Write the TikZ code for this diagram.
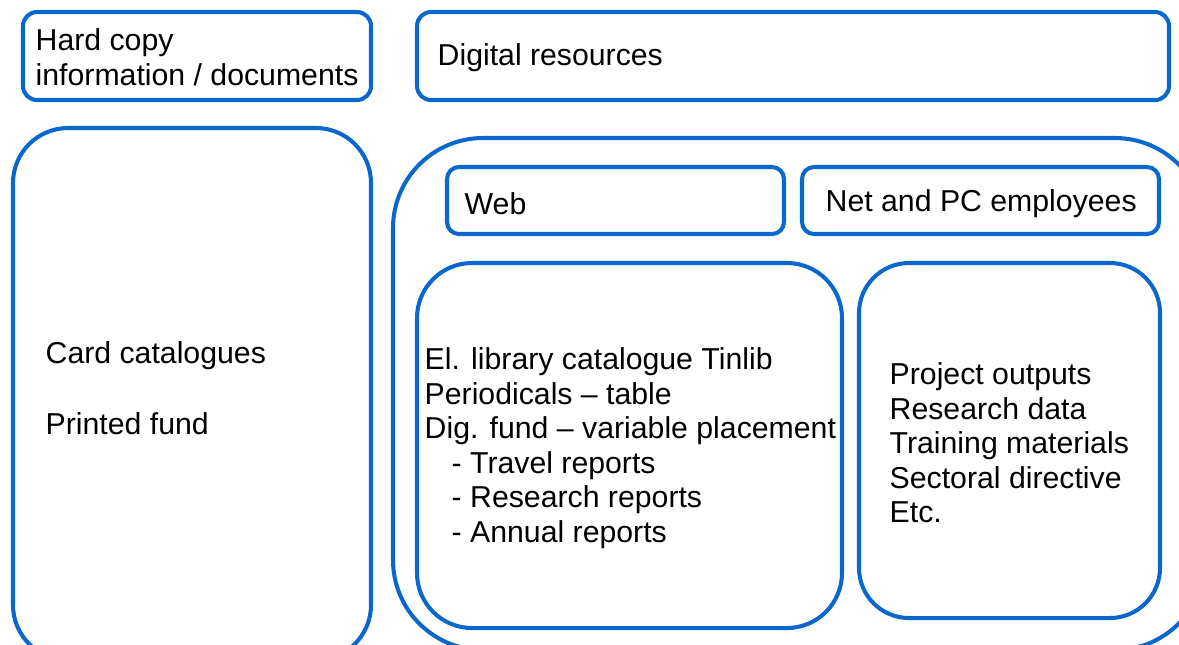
\documentclass[tikz,border=0pt]{standalone}
\usepackage{fontspec}
\setmainfont{Liberation Sans}
\definecolor{boxblue}{RGB}{10,104,204}
\begin{document}
\begin{tikzpicture}[x=0.01cm,y=-0.01cm,
  frame/.style={draw=boxblue,line width=1.15pt,rounded corners=#1},
  frame/.default=0.14cm,
  lbl/.style={anchor=west,align=left,inner sep=0pt,font=\fontsize{8.6pt}{9.8pt}\selectfont}]
\useasboundingbox (0,0) rectangle (1179,644);
\clip (0,0) rectangle (1179,644);
\fill[white] (0,0) rectangle (1179,644);
% top header boxes
\draw[frame] (23,12) rectangle (371,100);
\draw[frame] (417,12) rectangle (1169,100);
\node[lbl] (hc) at (35,57) {Hard copy\\information / documents};
\node[lbl] (dig) at (437,58) {Digital resources};
% left big box
\draw[frame=0.55cm] (13,128) rectangle (371,660);
\node[lbl] (card) at (45,356) {Card catalogues};
\node[lbl] (printed) at (45,424) {Printed fund};
% right container
\draw[frame=0.9cm] (393,138) rectangle (1205,650);
\draw[frame=0.12cm] (447,167) rectangle (784,234);
\draw[frame=0.12cm] (802,167) rectangle (1159,234);
\node[lbl] (web) at (464,204) {Web};
\node[lbl] (net) at (825,204) {Net and PC employees};
\draw[frame=0.55cm] (417,263) rectangle (842,628);
\draw[frame=0.5cm] (859,263) rectangle (1160,618);
\node[lbl] (el) at (424,448) {El. library catalogue Tinlib\\Periodicals -- table\\Dig. fund -- variable placement\\\hspace*{0.27cm}- Travel reports\\\hspace*{0.27cm}- Research reports\\\hspace*{0.27cm}- Annual reports};
\node[lbl] (proj) at (889,443) {Project outputs\\Research data\\Training materials\\Sectoral directive\\Etc.};
\end{tikzpicture}
\end{document}
